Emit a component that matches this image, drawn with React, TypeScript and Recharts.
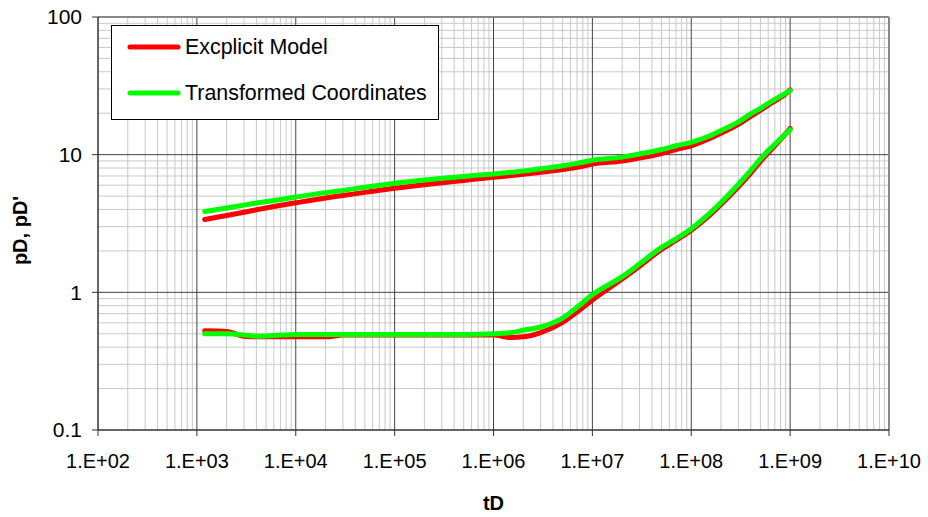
import React from 'react';
import { LineChart, Line, XAxis, YAxis, ReferenceLine } from 'recharts';

// dimensionless time samples shared by all four curves
const tD = [
  1.2e3, 2e3, 3e3, 4e3, 6e3, 1e4, 2e4, 3e4, 5e4, 1e5, 2e5, 5e5, 1e6, 1.5e6, 2e6, 3e6, 5e6,
  7e6, 1e7, 2e7, 3e7, 5e7, 7e7, 1e8, 1.5e8, 2e8, 3e8, 4e8, 5e8, 6e8, 7e8, 8.5e8, 1e9,
];

// pD, explicit model
const pdExplicit = [
  3.38, 3.62, 3.82, 3.98, 4.2, 4.47, 4.85, 5.05, 5.32, 5.7, 6.05, 6.5, 6.85, 7.05, 7.2, 7.45, 7.8,
  8.1, 8.55, 9.0, 9.45, 10.2, 10.9, 11.6, 13.0, 14.3, 16.6, 19.0, 21.0, 22.9, 24.5, 26.8, 29.5,
];
// pD, transformed coordinates
const pdTransformed = [
  3.86, 4.1, 4.3, 4.45, 4.65, 4.92, 5.3, 5.5, 5.8, 6.2, 6.55, 6.95, 7.25, 7.45, 7.6, 7.9, 8.3,
  8.65, 9.1, 9.6, 10.1, 10.9, 11.6, 12.3, 13.6, 15.0, 17.3, 19.8, 21.7, 23.6, 25.2, 27.3, 29.2,
];
// pD', explicit model
const derivExplicit = [
  0.525, 0.52, 0.48, 0.475, 0.475, 0.475, 0.475, 0.49, 0.49, 0.49, 0.49, 0.49, 0.49, 0.47, 0.475,
  0.51, 0.605, 0.72, 0.88, 1.25, 1.55, 2.05, 2.38, 2.82, 3.58, 4.35, 5.85, 7.35, 8.9, 10.3, 11.6, 13.5, 15.5,
];
// pD', transformed coordinates
const derivTransformed = [
  0.5, 0.5, 0.49, 0.48, 0.485, 0.495, 0.495, 0.495, 0.495, 0.495, 0.495, 0.495, 0.5, 0.51, 0.53,
  0.56, 0.65, 0.78, 0.96, 1.3, 1.61, 2.12, 2.45, 2.9, 3.7, 4.5, 6.1, 7.7, 9.3, 10.7, 11.9, 13.6, 15.2,
];

const xTicks = [1e2, 1e3, 1e4, 1e5, 1e6, 1e7, 1e8, 1e9, 1e10];
const yTicks = [0.1, 1, 10, 100];
const minorSteps = [2, 3, 4, 5, 6, 7, 8, 9];

const RED = '#ff0000';
const GREEN = '#00ff00';
const FONT = '"Liberation Sans", Arial, sans-serif';

const legendItems = [
  { name: 'Excplicit Model', color: RED },
  { name: 'Transformed Coordinates', color: GREEN },
];

const toRows = (vals: number[]) => tD.map((t, i) => ({ t, v: vals[i] }));
const minorOf = (majors: number[]) =>
  majors.slice(0, -1).flatMap((d) => minorSteps.map((k) => k * d));

const fmtX = (v: number) => `1.E+${String(Math.round(Math.log10(v))).padStart(2, '0')}`;

export default function App() {
  const xMinor = minorOf(xTicks);
  const yMinor = minorOf(yTicks);

  return (
    <div style={{ position: 'absolute', left: 0, top: 0, width: 928, height: 517, background: '#fff', fontFamily: FONT }}>
      <LineChart width={928} height={517} margin={{ top: 17, right: 39, bottom: 0, left: 0 }}>
        <XAxis
          dataKey="t"
          type="number"
          scale="log"
          domain={[1e2, 1e10]}
          allowDataOverflow
          ticks={xTicks}
          tickFormatter={fmtX}
          height={87}
          tickSize={6}
          tickMargin={18}
          tick={{ fontSize: 20, fill: '#000', fontFamily: FONT }}
          axisLine={{ stroke: '#333', strokeWidth: 1.5 }}
          tickLine={{ stroke: '#333' }}
          label={{
            content: ({ viewBox }: any) => (
              <text
                x={viewBox.x + viewBox.width / 2}
                y={viewBox.y + 80}
                textAnchor="middle"
                fontSize={20}
                fontWeight="bold"
                fontFamily={FONT}
              >
                tD
              </text>
            ),
          }}
        />
        <YAxis
          type="number"
          scale="log"
          domain={[0.1, 100]}
          allowDataOverflow
          ticks={yTicks}
          width={98}
          tickSize={6}
          tickMargin={10}
          tick={{ fontSize: 21, fill: '#000', fontFamily: FONT }}
          axisLine={{ stroke: '#333', strokeWidth: 1.5 }}
          tickLine={{ stroke: '#333' }}
          label={{
            content: ({ viewBox }: any) => {
              const x = viewBox.x + 27;
              const y = viewBox.y + viewBox.height / 2 + 7;
              return (
                <text
                  x={x}
                  y={y}
                  transform={`rotate(-90 ${x} ${y})`}
                  textAnchor="middle"
                  fontSize={20}
                  fontWeight="bold"
                  fontFamily={FONT}
                >
                  pD, pD'
                </text>
              );
            },
          }}
        />

        {xMinor.map((v) => (
          <ReferenceLine key={`xm${v}`} x={v} stroke="#c8c8c8" strokeWidth={1} />
        ))}
        {yMinor.map((v) => (
          <ReferenceLine key={`ym${v}`} y={v} stroke="#c8c8c8" strokeWidth={1} />
        ))}
        {xTicks.slice(1, -1).map((v) => (
          <ReferenceLine key={`xM${v}`} x={v} stroke="#444" strokeWidth={1} />
        ))}
        {yTicks.slice(1, -1).map((v) => (
          <ReferenceLine key={`yM${v}`} y={v} stroke="#444" strokeWidth={1} />
        ))}
        <ReferenceLine x={1e10} stroke="#888" strokeWidth={2} />
        <ReferenceLine y={100} stroke="#888" strokeWidth={2} />

        <Line data={toRows(pdExplicit)} dataKey="v" type="monotone" stroke={RED} strokeWidth={5} strokeLinecap="round" dot={false} isAnimationActive={false} />
        <Line data={toRows(derivExplicit)} dataKey="v" type="monotone" stroke={RED} strokeWidth={5} strokeLinecap="round" dot={false} isAnimationActive={false} />
        <Line data={toRows(pdTransformed)} dataKey="v" type="monotone" stroke={GREEN} strokeWidth={5} strokeLinecap="round" dot={false} isAnimationActive={false} />
        <Line data={toRows(derivTransformed)} dataKey="v" type="monotone" stroke={GREEN} strokeWidth={5} strokeLinecap="round" dot={false} isAnimationActive={false} />
      </LineChart>

      <div
        style={{
          position: 'absolute',
          left: 111,
          top: 25,
          width: 326,
          height: 93,
          background: '#fff',
          border: '1px solid #000',
        }}
      >
        {legendItems.map((item, i) => (
          <div
            key={item.name}
            style={{ position: 'absolute', left: 15, top: 9 + i * 46, height: 24, display: 'flex', alignItems: 'center' }}
          >
            <svg width={54} height={10} style={{ display: 'block' }}>
              <line x1={3} y1={5} x2={51} y2={5} stroke={item.color} strokeWidth={5} strokeLinecap="round" />
            </svg>
            <span style={{ fontSize: 21.4, marginLeft: 4, whiteSpace: 'nowrap', color: '#000' }}>{item.name}</span>
          </div>
        ))}
      </div>
    </div>
  );
}
